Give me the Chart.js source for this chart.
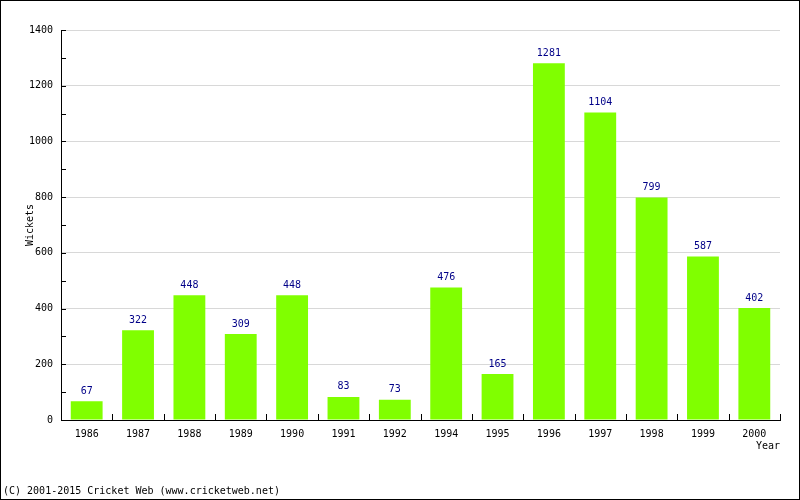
<!DOCTYPE html>
<html>
<head>
<meta charset="utf-8">
<script src="https://cdn.jsdelivr.net/npm/chart.js@4"></script>
<style>
  html, body { margin: 0; padding: 0; background: #fff; }
  #wrap { width: 800px; height: 500px; }
</style>
</head>
<body>
<div id="wrap"><canvas id="chart" width="800" height="500"></canvas></div>
<script>
// chart data
const years = ['1986', '1987', '1988', '1989', '1990', '1991', '1992', '1994', '1995', '1996', '1997', '1998', '1999', '2000'];
const wickets = [67, 322, 448, 309, 448, 83, 73, 476, 165, 1281, 1104, 799, 587, 402];
const yTicks = [0, 200, 400, 600, 800, 1000, 1200, 1400];
const minorStep = 100;

const FONT = 'DejaVu Sans Mono';

// extra drawing: frame, tick marks, value labels, axis titles, footer
const decorations = {
    id: 'decorations',
    afterDatasetsDraw(chart) {
        const ctx = chart.ctx;
        const area = chart.chartArea;
        const ys = chart.scales.y;
        ctx.save();

        // small tick marks inside the plot
        ctx.strokeStyle = '#000';
        ctx.lineWidth = 1;
        ctx.beginPath();
        for (let v = 0; v <= yTicks[yTicks.length - 1]; v += minorStep) {
            const y = Math.round(ys.getPixelForValue(v)) + 0.5;
            ctx.moveTo(area.left, y);
            ctx.lineTo(area.left + 5, y);
        }
        const step = (area.right - area.left) / years.length;
        for (let i = 1; i <= years.length; i++) {
            const x = Math.round(area.left + i * step) + 0.5;
            ctx.moveTo(x, area.bottom);
            ctx.lineTo(x, area.bottom - 6);
        }
        ctx.stroke();

        // value labels above the bars
        ctx.font = '10px ' + FONT;
        ctx.fillStyle = '#000088';
        ctx.textAlign = 'center';
        ctx.textBaseline = 'middle';
        chart.getDatasetMeta(0).data.forEach((bar, i) => {
            ctx.fillText(String(wickets[i]), bar.x, bar.y - 10);
        });

        // axis titles
        ctx.fillStyle = '#000';
        ctx.save();
        ctx.translate(30, (area.top + area.bottom) / 2);
        ctx.rotate(-Math.PI / 2);
        ctx.fillText('Wickets', 0, 0);
        ctx.restore();

        ctx.textAlign = 'right';
        ctx.fillText('Year', area.right, 446);

        // footer
        ctx.textAlign = 'left';
        ctx.fillText('(C) 2001-2015 Cricket Web (www.cricketweb.net)', 3, 491);

        // outer frame
        ctx.strokeStyle = '#000';
        ctx.strokeRect(0.5, 0.5, 799, 499);
        ctx.restore();
    }
};

Chart.defaults.font.family = FONT;
Chart.defaults.font.size = 10;
Chart.defaults.color = '#000';

new Chart(document.getElementById('chart'), {
    type: 'bar',
    data: {
        labels: years,
        datasets: [{
            data: wickets,
            backgroundColor: '#80ff00',
            borderWidth: 0,
            categoryPercentage: 1,
            barPercentage: 0.62
        }]
    },
    options: {
        responsive: false,
        animation: false,
        devicePixelRatio: 1,
        layout: { padding: { left: 0, top: 30, right: 20, bottom: 0 } },
        plugins: {
            legend: { display: false },
            tooltip: { enabled: false }
        },
        scales: {
            x: {
                grid: { display: false },
                border: { display: true, color: '#000', width: 1 },
                ticks: { padding: 0, maxRotation: 0, autoSkip: false },
                afterFit(scale) { scale.height = 80; }
            },
            y: {
                min: 0,
                max: 1400,
                afterBuildTicks(scale) { scale.ticks = yTicks.map(v => ({ value: v })); },
                grid: { color: '#d8d8d8', drawTicks: false },
                border: { display: true, color: '#000', width: 1 },
                ticks: { padding: 8, callback: v => String(v) },
                afterFit(scale) { scale.width = 61; }
            }
        }
    },
    plugins: [decorations]
});
</script>
</body>
</html>
